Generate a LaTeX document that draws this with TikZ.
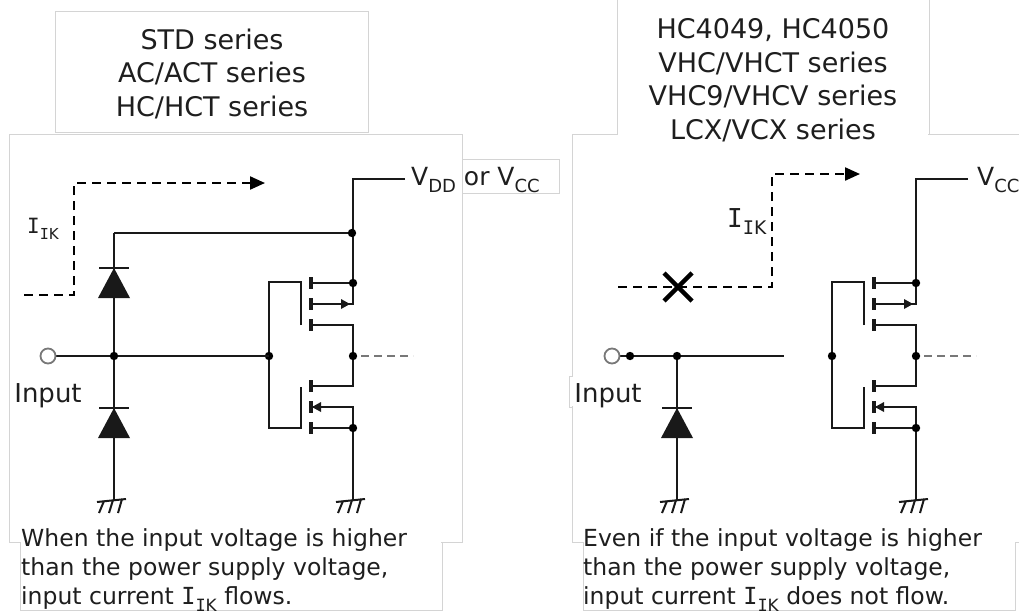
\documentclass[tikz,border=0pt]{standalone}
\usepackage{fontspec}
\setmainfont{DejaVu Sans}
\newfontfamily\slabfont{DejaVu Sans Mono}
\usepackage{tikz}
\usetikzlibrary{arrows.meta}
\definecolor{wirecol}{RGB}{25, 25, 25}
\definecolor{framecol}{RGB}{212, 212, 212}
\definecolor{outcol}{RGB}{120, 120, 120}
\definecolor{textcol}{RGB}{30, 30, 30}

\newcommand{\lowidx}[1]{\raisebox{-0.3em}{\scalebox{0.72}{#1}}}
\newcommand{\Iik}{{\slabfont I}\lowidx{{\slabfont I}K}}

\tikzset{
  wireline/.style={draw=wirecol, line width=2.2pt},
  chan/.style={draw=wirecol, line width=3.6pt},
  frameline/.style={draw=framecol, line width=0.9pt},
  ikflow/.style={draw=black, line width=2.2pt, dash pattern=on 9pt off 6pt,
    -{Triangle[length=15pt, width=13pt]}},
  outflow/.style={draw=outcol, line width=2.2pt, dash pattern=on 8pt off 5pt},
  diode/.pic={
    \fill[wirecol] (0,0) -- (-16,30) -- (16,30) -- cycle;
    \draw[wirecol, line width=2.8pt] (-15,0) -- (15,0);
  },
  earthsym/.pic={
    \draw[wirecol, line width=2pt] (-17,2) -- (12,-1);
    \draw[wirecol, line width=2pt] (-10,1) -- (-15,13) (-1,0) -- (-5,13) (8,-1) -- (4,13);
  }
}

\begin{document}
\begin{tikzpicture}[x=1pt, y=-1pt, text=textcol]
\useasboundingbox (0,0) rectangle (1019,611);

% frames of the left panel
\draw[frameline] (9,134) rectangle (462,542);
\draw[frameline] (55,11) rectangle (368,132);
\draw[frameline] (462,159) -- (559,159) -- (559,193) -- (462,193);
\fill[white] (21,540) rectangle (441,611);
\draw[frameline] (20,542) -- (20,610) -- (442,610) -- (442,542);

% frames of the right panel
\draw[frameline] (572,542) -- (572,134) -- (1030,134);
\fill[white] (618,0) rectangle (928,136);
\draw[frameline] (617,-1) -- (617,134) (929,-1) -- (929,134);
\fill[white] (570,377) rectangle (576,406);
\draw[frameline] (572,376) -- (569,376) -- (569,407) -- (572,407);
\draw[frameline] (572,542) -- (583,542) (1015,542) -- (1030,542);
\fill[white] (584,540) rectangle (1014,611);
\draw[frameline] (583,542) -- (583,610) -- (1015,610) -- (1015,542);

% titles (base = last line)
\node[anchor=base, align=center, font=\fontsize{27}{33.5}\selectfont] (Ltitle) at (212,116)
  {STD series\\AC/ACT series\\HC/HCT series};
\node[anchor=base, align=center, font=\fontsize{27}{33.5}\selectfont] (Rtitle) at (773,139)
  {HC4049, HC4050\\VHC/VHCT series\\VHC9/VHCV series\\LCX/VCX series};

% CMOS inverter, same in both panels
\foreach \gx/\p in {269/L, 832/R} {
  \begin{scope}[shift={(\gx,356)}]
    \coordinate (\p-g) at (0,0);
    \coordinate (\p-src) at (84,-73);
    \coordinate (\p-out) at (84,0);
    \coordinate (\p-nsrc) at (84,72);
    \coordinate (\p-gnd) at (84,144);
    \coordinate (\p-vcc) at (84,-177);
    \coordinate (\p-vccend) at (136,-177);
    \coordinate (\p-outend) at (144,0);
    % gate
    \draw[wireline] (32,-31) -- (32,-74) -- (0,-74) -- (0,72) -- (32,72) -- (32,31);
    \foreach \cy in {-73,-52,-31,30,51,72}
      \draw[chan] (42,\cy-6) -- (42,\cy+6);
    % pmos
    \draw[wireline] (\p-vccend) -- (\p-vcc) -- (\p-src) -- (42,-73);
    \draw[wireline] (\p-src) -- (84,-52) -- (42,-52);
    \fill[wirecol] (81,-52) -- (72,-57) -- (72,-47) -- cycle;
    \draw[wireline] (42,-31) -- (84,-31) -- (\p-out);
    % nmos
    \draw[wireline] (42,30) -- (84,30) -- (\p-out);
    \draw[wireline] (42,51) -- (84,51) -- (\p-nsrc);
    \fill[wirecol] (43,51) -- (52,46) -- (52,56) -- cycle;
    \draw[wireline] (42,72) -- (\p-nsrc) -- (\p-gnd);
    \draw[outflow] (92,0) -- (\p-outend);
    \foreach \d in {\p-g, \p-src, \p-out, \p-nsrc}
      \fill[black] (\d) circle (4.2pt);
    \pic at (\p-gnd) {earthsym};
  \end{scope}
}

% left panel: two clamp diodes
\coordinate (L-in) at (48,356);
\coordinate (L-jn) at (114,356);
\coordinate (L-rail) at (114,233);
\coordinate (L-railend) at (352,233);
\coordinate (L-gnd1) at (114,500);
\draw[wireline] (L-in) -- (L-jn) -- (L-g);
\draw[wireline] (L-rail) -- (L-railend);
\draw[wireline] (L-rail) -- (L-gnd1);
\pic at (114,268) {diode};
\pic at (114,408) {diode};
\pic at (L-gnd1) {earthsym};
\fill[black] (L-jn) circle (4.2pt) (L-railend) circle (4.2pt);
\draw[draw=outcol, line width=1.8pt, fill=white] (L-in) circle (7.5pt);

\coordinate (L-ikstart) at (24,295);
\coordinate (L-ikend) at (265,183);
\draw[ikflow] (L-ikstart) -- ++(50,0) |- (L-ikend);

% right panel: one diode, no path to the supply
\coordinate (R-in) at (612,356);
\coordinate (R-tap) at (630,356);
\coordinate (R-jn) at (677,356);
\coordinate (R-cut) at (784,356);
\coordinate (R-gnd1) at (677,500);
\draw[wireline] (R-in) -- (R-cut);
\draw[wireline] (R-jn) -- (R-gnd1);
\pic at (677,408) {diode};
\pic at (R-gnd1) {earthsym};
\fill[black] (R-tap) circle (4.2pt) (R-jn) circle (4.2pt);
\draw[draw=outcol, line width=1.8pt, fill=white] (R-in) circle (7.5pt);

\coordinate (R-ikstart) at (618,287);
\coordinate (R-ikend) at (860,174);
\coordinate (R-block) at (678,287);
\draw[ikflow] (R-ikstart) -- ++(154,0) |- (R-ikend);
\draw[black, line width=4.5pt] (R-block) +(-14,-14) -- +(14,14) +(-14,14) -- +(14,-14);

% labels
\node[anchor=base, font=\fontsize{26}{30}\selectfont] (Linput) at (48,402) {Input};
\node[anchor=base, font=\fontsize{26}{30}\selectfont] (Rinput) at (608,402) {Input};
\node[anchor=base west, inner sep=0pt, font=\fontsize{21}{24}\selectfont] (Lik) at (27,233) {\Iik};
\node[anchor=base west, inner sep=0pt, font=\fontsize{26}{30}\selectfont] (Rik) at (727,227) {\Iik};
\node[anchor=base west, inner sep=0pt, font=\fontsize{25}{30}\selectfont] (Lvdd) at (411,185)
  {V\lowidx{DD} or V\lowidx{CC}};
\node[anchor=base west, inner sep=0pt, font=\fontsize{25}{30}\selectfont] (Rvcc) at (977,185)
  {V\lowidx{CC}};

% captions (base = last line)
\node[anchor=base west, inner sep=0pt, align=left, font=\fontsize{23.5}{28.7}\selectfont] (Lnote) at (21,604)
  {When the input voltage is higher\\than the power supply voltage,\\input current \Iik{} flows.};
\node[anchor=base west, inner sep=0pt, align=left, font=\fontsize{23.5}{28.7}\selectfont] (Rnote) at (583,604)
  {Even if the input voltage is higher\\than the power supply voltage,\\input current \Iik{} does not flow.};
\end{tikzpicture}
\end{document}
